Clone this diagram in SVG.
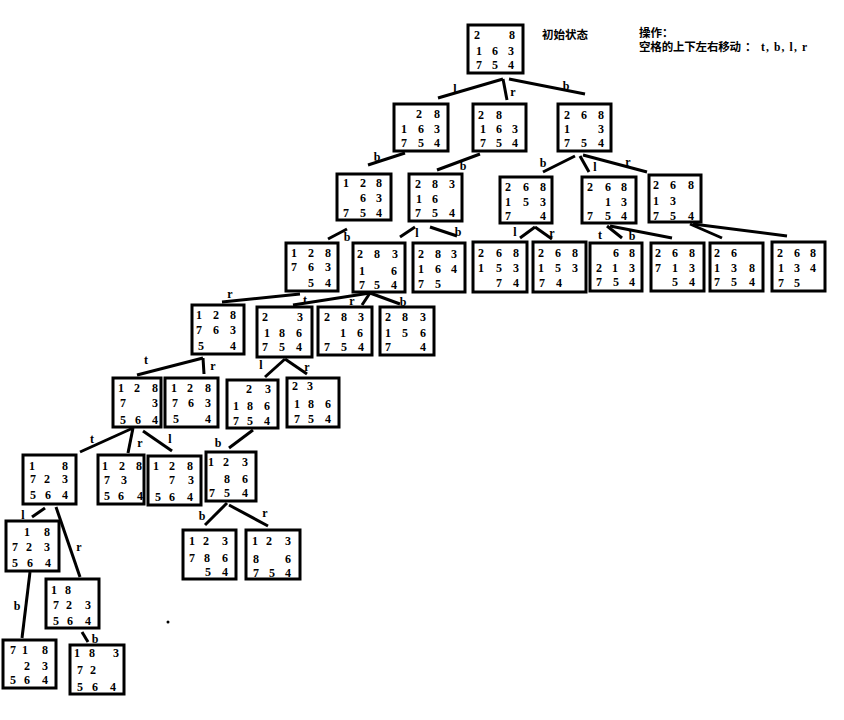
<svg xmlns="http://www.w3.org/2000/svg" width="844" height="720" viewBox="0 0 844 720">
<style>
.b{fill:#fff;stroke:#000;stroke-width:3}
.d{font-family:"Liberation Serif","DejaVu Serif",serif;font-weight:bold;font-size:12px;fill:#000;text-anchor:middle}
.l{font-family:"Liberation Serif","DejaVu Serif",serif;font-weight:bold;font-size:12px;fill:#000;text-anchor:middle}
.c line{stroke:#000;stroke-width:3}
.h{font-family:"Liberation Serif","Noto Sans CJK SC",serif;font-weight:bold;font-size:11.5px;fill:#000}
</style>
<rect width="844" height="720" fill="#fff"/>
<g id="connectors" class="c">
<line x1="503" y1="79" x2="438" y2="98"/>
<line x1="503" y1="79" x2="507" y2="100"/>
<line x1="509" y1="79" x2="585" y2="94"/>
<line x1="405" y1="153" x2="368" y2="165"/>
<line x1="480" y1="154" x2="437" y2="170"/>
<line x1="575" y1="156" x2="543" y2="172"/>
<line x1="580" y1="156" x2="589" y2="172"/>
<line x1="583" y1="155" x2="647" y2="172"/>
<line x1="347" y1="229" x2="328" y2="239"/>
<line x1="415" y1="227" x2="400" y2="237"/>
<line x1="430" y1="227" x2="457" y2="236"/>
<line x1="535" y1="227" x2="520" y2="238"/>
<line x1="535" y1="227" x2="552" y2="239"/>
<line x1="607" y1="226" x2="622" y2="238"/>
<line x1="610" y1="226" x2="672" y2="238"/>
<line x1="690" y1="224" x2="722" y2="238"/>
<line x1="693" y1="224" x2="787" y2="236"/>
<line x1="300" y1="294" x2="222" y2="302"/>
<line x1="370" y1="293" x2="293" y2="305"/>
<line x1="370" y1="293" x2="362" y2="305"/>
<line x1="370" y1="293" x2="400" y2="304"/>
<line x1="203" y1="358" x2="137" y2="375"/>
<line x1="203" y1="358" x2="204" y2="374"/>
<line x1="285" y1="359" x2="265" y2="377"/>
<line x1="285" y1="359" x2="307" y2="374"/>
<line x1="133" y1="428" x2="80" y2="452"/>
<line x1="133" y1="428" x2="128" y2="453"/>
<line x1="143" y1="431" x2="172" y2="451"/>
<line x1="253" y1="430" x2="229" y2="448"/>
<line x1="227" y1="503" x2="205" y2="525"/>
<line x1="229" y1="505" x2="268" y2="526"/>
<line x1="45" y1="508" x2="32" y2="517"/>
<line x1="56" y1="507" x2="80" y2="577"/>
<line x1="30" y1="572" x2="22" y2="638"/>
<line x1="82" y1="632" x2="88" y2="642"/>
</g>
<g id="edge-labels" class="l">
<text x="455" y="93">l</text><text x="513" y="96">r</text><text x="566" y="90">b</text>
<text x="377" y="161">b</text><text x="463" y="170">b</text><text x="543" y="167">b</text><text x="595" y="171">l</text><text x="628" y="166">r</text>
<text x="347" y="241">b</text><text x="417" y="237">l</text><text x="458" y="236">b</text><text x="515" y="236">l</text><text x="552" y="237">r</text><text x="600" y="239">t</text><text x="632" y="240">b</text>
<text x="230" y="298">r</text><text x="305" y="304">t</text><text x="352" y="305">r</text><text x="403" y="306">b</text>
<text x="146" y="364">t</text><text x="213" y="370">r</text><text x="261" y="369">l</text><text x="307" y="371">r</text>
<text x="92" y="443">t</text><text x="140" y="447">r</text><text x="170" y="443">l</text><text x="218" y="447">b</text>
<text x="202" y="520">b</text><text x="265" y="517">r</text><text x="23" y="519">l</text><text x="79" y="551">r</text>
<text x="17" y="610">b</text><text x="95" y="643">b</text>
</g>
<g id="header">
<text class="h" x="542" y="39">初始状态</text>
<text class="h" x="639" y="37">操作：</text>
<text class="h" y="51"><tspan x="639" textLength="102" lengthAdjust="spacing">空格的上下左右移动</tspan><tspan x="745">：</tspan><tspan x="761" textLength="46" lengthAdjust="spacing">t, b, l, r</tspan></text>
</g>
<g id="n0"><rect class="b" x="468" y="25" width="55" height="48"/><g class="d"><text x="477 512" y="39">28</text><text x="479 495 511" y="55">163</text><text x="479 495 511" y="69">754</text></g></g>
<g id="n1"><rect class="b" x="394" y="104" width="54" height="47"/><g class="d"><text x="419 437" y="118">28</text><text x="404 421 437" y="133">163</text><text x="404 421 437" y="147">754</text></g></g>
<g id="n2"><rect class="b" x="473" y="104" width="53" height="47"/><g class="d"><text x="481 499" y="119">28</text><text x="483 499 515" y="133">163</text><text x="483 499 515" y="147">754</text></g></g>
<g id="n3"><rect class="b" x="558" y="104" width="53" height="47"/><g class="d"><text x="567 584 601" y="119">268</text><text x="567 601" y="133">13</text><text x="567 584 601" y="147">754</text></g></g>
<g id="n4"><rect class="b" x="337" y="174" width="54" height="46"/><g class="d"><text x="346 363 379" y="187">128</text><text x="363 379" y="202">63</text><text x="346 363 379" y="217">754</text></g></g>
<g id="n5"><rect class="b" x="409" y="174" width="53" height="47"/><g class="d"><text x="418 435 452" y="188">283</text><text x="419 435" y="203">16</text><text x="418 435 452" y="217">754</text></g></g>
<g id="n6"><rect class="b" x="500" y="177" width="52" height="46"/><g class="d"><text x="508 526 543" y="191">268</text><text x="508 526 543" y="206">153</text><text x="508 543" y="220">74</text></g></g>
<g id="n7"><rect class="b" x="582" y="177" width="54" height="46"/><g class="d"><text x="590 608 624" y="191">268</text><text x="608 624" y="206">13</text><text x="590 608 624" y="220">754</text></g></g>
<g id="n8"><rect class="b" x="649" y="175" width="52" height="47"/><g class="d"><text x="656 673 691" y="189">268</text><text x="656 673" y="205">13</text><text x="656 673 691" y="220">754</text></g></g>
<g id="n9"><rect class="b" x="286" y="243" width="52" height="48"/><g class="d"><text x="294 311 328" y="257">128</text><text x="294 311 328" y="271">763</text><text x="311 328" y="287">54</text></g></g>
<g id="n10"><rect class="b" x="353" y="243" width="52" height="49"/><g class="d"><text x="360 377 395" y="258">283</text><text x="362 394" y="275">16</text><text x="362 377 394" y="289">754</text></g></g>
<g id="n11"><rect class="b" x="413" y="243" width="52" height="49"/><g class="d"><text x="421 438 454" y="258">283</text><text x="421 438 454" y="273">164</text><text x="421 438" y="288">75</text></g></g>
<g id="n12"><rect class="b" x="473" y="242" width="54" height="50"/><g class="d"><text x="481 499 516" y="257">268</text><text x="481 499 516" y="272">153</text><text x="499 516" y="287">74</text></g></g>
<g id="n13"><rect class="b" x="533" y="242" width="53" height="50"/><g class="d"><text x="541 558 575" y="257">268</text><text x="541 558 575" y="272">153</text><text x="542 559" y="287">74</text></g></g>
<g id="n14"><rect class="b" x="590" y="243" width="52" height="48"/><g class="d"><text x="616 632" y="257">68</text><text x="599 615 632" y="272">213</text><text x="599 616 632" y="286">754</text></g></g>
<g id="n15"><rect class="b" x="651" y="243" width="53" height="48"/><g class="d"><text x="658 675 692" y="257">268</text><text x="658 675 692" y="272">713</text><text x="675 692" y="286">54</text></g></g>
<g id="n16"><rect class="b" x="710" y="243" width="53" height="48"/><g class="d"><text x="717 734" y="257">26</text><text x="717 734 752" y="272">138</text><text x="717 734 752" y="286">754</text></g></g>
<g id="n17"><rect class="b" x="772" y="242" width="53" height="49"/><g class="d"><text x="780 797 813" y="257">268</text><text x="781 797 813" y="272">134</text><text x="781 797" y="287">75</text></g></g>
<g id="n18"><rect class="b" x="192" y="305" width="52" height="49"/><g class="d"><text x="199 216 233" y="319">128</text><text x="199 216 233" y="334">763</text><text x="201 233" y="350">54</text></g></g>
<g id="n19"><rect class="b" x="257" y="307" width="55" height="50"/><g class="d"><text x="265 300" y="321">23</text><text x="267 282 299" y="337">186</text><text x="265 282 299" y="351">754</text></g></g>
<g id="n20"><rect class="b" x="318" y="307" width="54" height="48"/><g class="d"><text x="327 344 361" y="321">283</text><text x="343 360" y="337">16</text><text x="327 344 361" y="351">754</text></g></g>
<g id="n21"><rect class="b" x="380" y="307" width="54" height="48"/><g class="d"><text x="388 405 423" y="321">283</text><text x="388 405 423" y="337">156</text><text x="388 423" y="351">74</text></g></g>
<g id="n22"><rect class="b" x="113" y="378" width="48" height="49"/><g class="d"><text x="121 137 155" y="392">128</text><text x="123 155" y="407">73</text><text x="123 138 155" y="424">564</text></g></g>
<g id="n23"><rect class="b" x="165" y="378" width="53" height="49"/><g class="d"><text x="174 190 208" y="392">128</text><text x="175 191 208" y="407">763</text><text x="176 208" y="423">54</text></g></g>
<g id="n24"><rect class="b" x="227" y="380" width="51" height="48"/><g class="d"><text x="249 268" y="393">23</text><text x="236 250 267" y="410">186</text><text x="236 250 267" y="425">754</text></g></g>
<g id="n25"><rect class="b" x="287" y="378" width="52" height="49"/><g class="d"><text x="295 310" y="390">23</text><text x="297 311 328" y="408">186</text><text x="297 311 328" y="423">754</text></g></g>
<g id="n26"><rect class="b" x="23" y="455" width="53" height="49"/><g class="d"><text x="32 65" y="470">18</text><text x="33 47 65" y="483">723</text><text x="33 48 65" y="499">564</text></g></g>
<g id="n27"><rect class="b" x="98" y="455" width="46" height="49"/><g class="d"><text x="105 122 139" y="470">128</text><text x="107 124" y="484">73</text><text x="107 121 140" y="500">564</text></g></g>
<g id="n28"><rect class="b" x="148" y="456" width="53" height="49"/><g class="d"><text x="156 172 190" y="470">128</text><text x="172 191" y="484">73</text><text x="158 172 190" y="501">564</text></g></g>
<g id="n29"><rect class="b" x="206" y="452" width="50" height="49"/><g class="d"><text x="211 226 245" y="466">123</text><text x="227 245" y="483">86</text><text x="212 227 245" y="497">754</text></g></g>
<g id="n30"><rect class="b" x="183" y="530" width="53" height="49"/><g class="d"><text x="192 206 225" y="545">123</text><text x="192 207 225" y="562">786</text><text x="208 225" y="576">54</text></g></g>
<g id="n31"><rect class="b" x="246" y="530" width="54" height="49"/><g class="d"><text x="255 269 288" y="545">123</text><text x="256 288" y="563">86</text><text x="256 272 288" y="577">754</text></g></g>
<g id="n32"><rect class="b" x="6" y="521" width="53" height="50"/><g class="d"><text x="27 47" y="536">18</text><text x="15 29 47" y="551">723</text><text x="15 30 48" y="567">564</text></g></g>
<g id="n33"><rect class="b" x="46" y="579" width="53" height="49"/><g class="d"><text x="54 68" y="594">18</text><text x="56 69 88" y="609">723</text><text x="56 70 88" y="625">564</text></g></g>
<g id="n34"><rect class="b" x="3" y="640" width="53" height="48"/><g class="d"><text x="13 25 45" y="654">718</text><text x="27 45" y="670">23</text><text x="13 27 45" y="684">564</text></g></g>
<g id="n35"><rect class="b" x="70" y="645" width="54" height="49"/><g class="d"><text x="77 92 116" y="657">183</text><text x="80 93" y="674">72</text><text x="80 95 113" y="691">564</text></g></g>
<circle cx="168" cy="622" r="1.5" fill="#000"/>
</svg>
